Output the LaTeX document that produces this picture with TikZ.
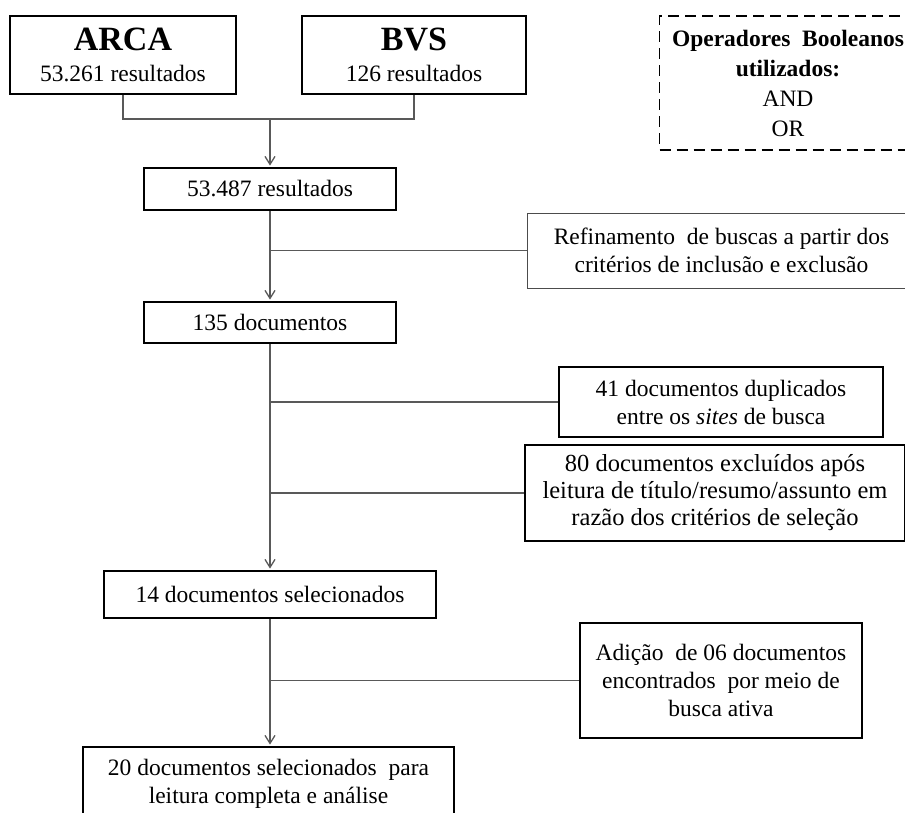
\documentclass[tikz,border=0pt]{standalone}
\usepackage{fontspec}
\setmainfont{Liberation Serif}
\usepackage{tikz}
\usetikzlibrary{arrows.meta}

\newcommand{\flowfont}{\fontsize{23.5}{28}\selectfont}
\tikzset{
  box/.style={draw=black, line width=1.8pt, fill=white, align=center, inner sep=0pt},
  thinbox/.style={draw=black!70, line width=0.9pt, fill=white, align=center, inner sep=0pt},
  dashbox/.style={draw=black, line width=1.8pt, dash pattern=on 11pt off 6pt, align=center, inner sep=0pt},
  link/.style={draw=black!65, line width=1.3pt},
}

\begin{document}
\begin{tikzpicture}[x=1pt, y=-1pt, >={Straight Barb[length=8pt,width=10pt]}, font=\flowfont]
  % Page frame (the right side of the picture is cut)
  \useasboundingbox (0,0) rectangle (905,812);
  \clip (0,0) rectangle (905,812);

  % Databases
  \node[box, minimum width=226pt, minimum height=78pt] (arca) at (123,55)
    {{\fontsize{34}{34}\selectfont\bfseries ARCA}\\[3pt]53.261 resultados};
  \node[box, minimum width=224pt, minimum height=78pt] (bvs) at (414,55)
    {{\fontsize{34}{34}\selectfont\bfseries BVS}\\[3pt]126 resultados};

  % Boolean operators note
  \node[dashbox, minimum width=257pt, minimum height=134pt, font=\fontsize{23.5}{30}\selectfont] (bool) at (788,83)
    {\textbf{Operadores\ \ Booleanos}\\\textbf{utilizados:}\\AND\\OR};

  % Main flow
  \node[box, minimum width=252pt, minimum height=42pt] (res) at (270,189) {53.487 resultados};
  \node[box, minimum width=252pt, minimum height=41pt] (docs) at (270,322.5) {135 documentos};
  \node[box, minimum width=332pt, minimum height=47pt] (sel) at (270,594.5) {14 documentos selecionados};
  \node[box, minimum width=371pt, minimum height=74pt] (final) at (268.5,784)
    {20 documentos selecionados\ \ para\\leitura completa e análise};

  % Side steps
  \node[thinbox, minimum width=389pt, minimum height=75pt] (refine) at (721.5,250.5)
    {Refinamento\ \ de buscas a partir dos\\critérios de inclusão e exclusão};
  \node[box, minimum width=324pt, minimum height=70pt] (dup) at (721,402)
    {41 documentos duplicados\\entre os \textit{sites} de busca};
  \node[box, minimum width=380pt, minimum height=96pt, font=\fontsize{24.5}{27}\selectfont] (excl) at (715,493)
    {80\ documentos\ excluídos\ após\\leitura de título/resumo/assunto em\\razão dos critérios de seleção};
  \node[box, minimum width=282pt, minimum height=115pt] (add) at (721,680.5)
    {Adição\ \ de 06 documentos\\encontrados\ \ por meio de\\busca ativa};

  % Connectors
  \coordinate (merge) at (270,119);
  \draw[link] (arca.south) |- (merge) -| (bvs.south);
  \draw[link, ->, shorten >=1.5pt] (merge) -- (res.north);
  \draw[link, ->, shorten >=1.5pt] (res.south) -- (docs.north);
  \draw[link] (res.south |- refine.west) -- (refine.west);
  \draw[link, ->, shorten >=1.5pt] (docs.south) -- (sel.north);
  \draw[link] (docs.south |- dup.west) -- (dup.west);
  \draw[link] (docs.south |- excl.west) -- (excl.west);
  \draw[link, ->, shorten >=1.5pt] (sel.south) -- (sel.south |- final.north);
  \draw[link] (sel.south |- add.west) -- (add.west);
\end{tikzpicture}
\end{document}
